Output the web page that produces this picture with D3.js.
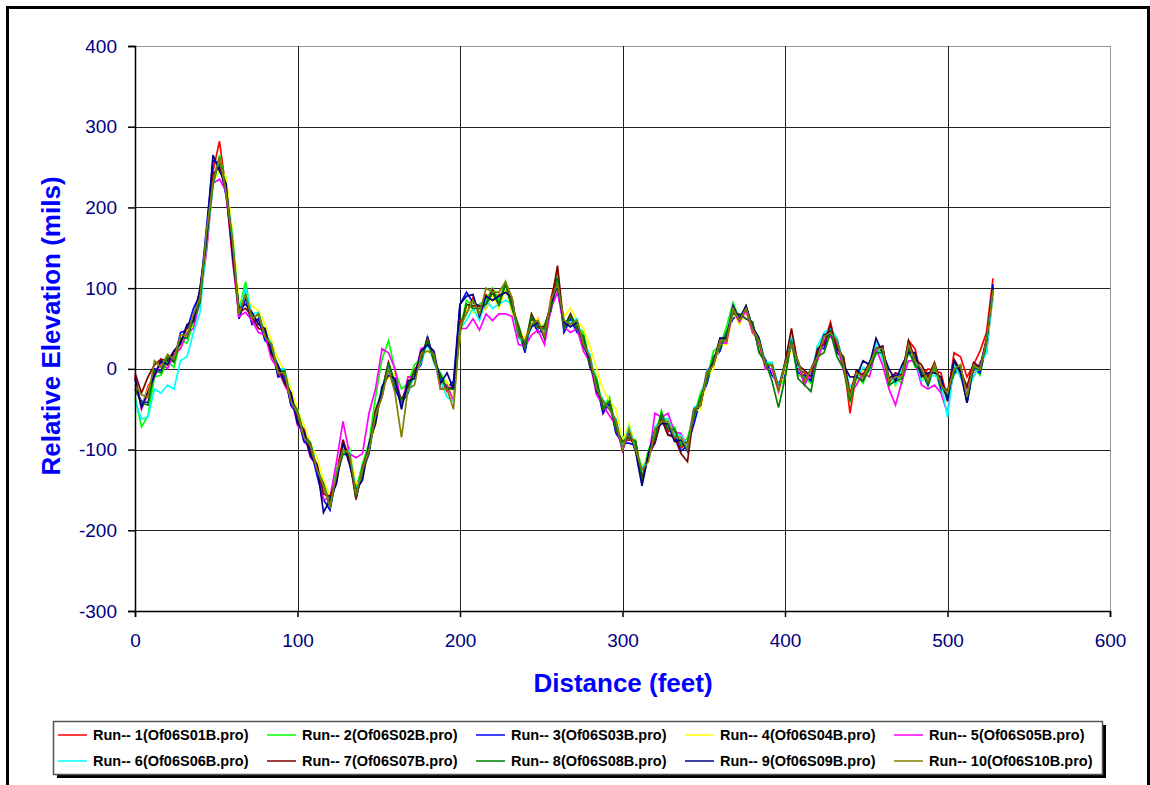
<!DOCTYPE html>
<html>
<head>
<meta charset="utf-8">
<script src="https://cdn.jsdelivr.net/npm/d3@7"></script>
<style>
  body { margin: 0; background: #fff; }
  svg { display: block; font-family: "Liberation Sans", Arial, sans-serif; }
</style>
</head>
<body>
<svg width="1150" height="785"></svg>
<script>
// Runs sampled every 4 ft, 0..528 ft
const sampleStep = 4;

const run1 = [-8,-48,-22,-8,12,2,22,30,52,55, 98,158,245,282,222,158,62,88,58,62, 38,28,-8,-5,-45,-55,-90,-95,-128,-145,
  -172,-128,-88,-118,-148,-122,-100,-52,-28,8, -22,-38,-28,-2,10,38,8,-10,-28,-22, 58,70,88,65,92,85,92,95,85,38,
  35,52,62,38,88,120,48,65,48,40, 2,-15,-55,-40,-78,-90,-88,-90,-138,-102, -88,-55,-78,-75,-98,-92,-48,-45,-2,5,
  38,35,75,58,72,45,35,2,5,-28, 8,38,0,-5,-15,25,32,58,22,12, -55,-5,-15,8,22,28,-18,-5,-10,35,
  25,-10,0,-2,-5,-38,20,15,-10,5, 22,45,112];
const run2 = [-35,-72,-58,-10,-8,10,2,35,32,58, 80,162,232,265,228,165,72,108,62,68, 42,32,-2,-2,-38,-52,-85,-92,-125,-142,
  -165,-125,-105,-98,-150,-118,-92,-35,12,35, -2,-25,-18,5,12,40,10,-5,-22,-18, 48,85,78,80,85,100,85,108,78,55,
  28,68,50,55,75,118,50,68,52,45, 8,-10,-48,-35,-75,-85,-85,-88,-135,-100, -85,-52,-75,-72,-95,-85,-58,-30,-12,22,
  28,52,82,62,78,52,38,5,8,-25, -12,38,-8,-10,-18,28,25,55,20,15, -42,-8,-18,2,18,25,-22,-12,-18,28,
  2,-2,-22,2,-28,-32,-8,2,-42,2, -8,32,88];
const run3 = [-25,-40,-42,0,-2,15,10,45,48,75, 92,175,258,255,215,152,62,88,55,62, 35,28,-10,-8,-45,-58,-90,-98,-132,-162,
  -175,-132,-105,-108,-160,-128,-105,-55,-35,5, -25,-42,-30,-5,5,40,10,-8,-25,-15, 80,95,82,78,75,92,78,102,72,48,
  20,62,45,48,72,112,45,62,45,38, 2,-18,-55,-42,-80,-92,-92,-95,-140,-105, -92,-60,-82,-82,-102,-95,-68,-38,-18,12,
  22,45,62,68,62,58,22,12,-8,-18, -8,38,-5,-8,-15,25,25,52,20,12, -35,-2,-10,8,25,28,-15,-8,-10,28,
  5,-2,-20,5,-25,-32,-5,2,-42,0, -5,30,105];
const run4 = [-12,-48,-25,-8,8,2,18,25,48,52, 90,145,232,245,238,170,85,90,78,72, 55,35,12,-2,-25,-50,-70,-92,-110,-138,
  -158,-142,-95,-100,-142,-138,-95,-70,-25,-10, -5,-48,-12,-12,18,22,18,-22,-15,-38, 40,75,70,70,75,90,75,100,70,48,
  38,58,62,42,85,100,65,75,60,50, 28,0,-25,-40,-50,-90,-68,-95,-120,-110, -72,-62,-62,-82,-82,-98,-52,-50,-10,0,
  30,30,70,55,72,48,30,0,0,-30, 0,25,8,-20,-5,10,35,40,30,0, -25,-18,-2,-8,32,12,-8,-22,-2,18,
  18,-12,-8,-8,-12,-42,8,-8,-28,-8, 8,20,92];
const run5 = [-10,-50,-30,-10,8,0,18,25,45,50, 85,145,230,235,220,135,65,70,60,45, 42,12,0,-20,-35,-70,-80,-110,-120,-162,
  -160,-115,-65,-105,-110,-105,-55,-25,25,20, 0,-45,-10,-10,25,28,18,-25,-20,-40, 50,50,62,48,68,60,68,68,65,30,
  28,42,48,30,75,95,52,45,50,22, 8,-32,-45,-58,-70,-102,-78,-100,-125,-112, -55,-60,-55,-78,-80,-98,-50,-42,-2,5,
  32,32,72,58,72,48,32,0,0,-28, 5,30,5,-20,-5,10,35,40,30,-2, -30,-20,-5,-10,25,5,-25,-45,-15,10,
  10,-20,-25,-20,-30,-55,5,-10,-25,-10, 8,20,95];
const run6 = [-40,-62,-60,-25,-30,-20,-25,10,15,45, 70,155,228,260,222,165,70,100,68,70, 42,32,0,0,-38,-52,-82,-92,-122,-145,
  -170,-130,-100,-102,-152,-125,-100,-52,-25,5, -20,-40,-28,-8,8,32,8,-15,-35,-40, 50,60,75,60,85,75,80,85,80,38,
  32,52,58,40,82,102,60,58,62,32, 18,-22,-38,-50,-62,-98,-72,-98,-122,-112, -72,-62,-62,-82,-82,-98,-48,-42,-2,5,
  35,35,78,62,78,52,38,8,8,-22, 8,42,2,-2,-8,28,45,50,38,8, -22,-12,2,-2,32,12,-8,-20,0,18,
  15,-15,-10,-8,-15,-60,5,-10,-30,-10, 5,20,95];
const run7 = [-5,-30,-10,5,12,10,22,32,52,58, 95,158,242,250,222,140,70,75,65,50, 48,18,2,-18,-30,-65,-75,-105,-118,-155,
  -158,-138,-88,-112,-162,-122,-98,-52,-28,8, -18,-38,-22,-2,12,38,10,-10,-25,-22, 48,80,78,78,80,98,80,105,78,52,
  28,68,52,52,80,128,52,68,50,40, 5,-15,-50,-40,-75,-90,-85,-90,-135,-108, -90,-62,-82,-85,-105,-115,-52,-45,-5,5,
  35,35,75,60,78,50,35,5,5,-25, 8,50,5,-2,-10,25,30,55,25,15, -32,-2,-8,8,25,28,-12,-5,-8,35,
  12,5,-10,8,-18,-28,12,-2,-22,8, 2,38,100];
const run8 = [-25,-42,-45,-2,-5,15,8,38,38,62, 82,162,228,262,225,158,68,92,62,68, 40,30,-5,-2,-38,-52,-82,-92,-125,-142,
  -172,-135,-105,-108,-158,-128,-102,-58,-30,8, -20,-40,-25,-5,10,35,10,-10,-25,-25, 45,80,75,75,80,95,80,105,75,50,
  25,65,50,50,75,112,50,65,50,40, 5,-15,-50,-40,-75,-90,-85,-90,-140,-105, -85,-55,-75,-75,-95,-90,-60,-35,-15,15,
  25,45,68,68,62,58,20,8,-15,-48, -12,35,-12,-20,-28,15,20,45,15,0, -40,-10,-15,0,20,20,-20,-15,-12,22,
  5,-5,-18,5,-20,-35,-2,5,-38,2, -2,32,98];
const run9 = [-12,-48,-28,-8,10,5,22,32,55,60, 100,162,265,245,230,145,75,80,70,55, 50,20,5,-15,-30,-68,-78,-108,-120,-178,
  -162,-142,-92,-118,-150,-138,-92,-68,-22,-8, -12,-50,-15,-12,22,30,22,-18,-5,-25, 80,90,92,65,90,85,90,95,88,40,
  35,52,58,38,82,102,58,52,58,28, 12,-28,-40,-50,-65,-100,-78,-102,-145,-105, -75,-68,-68,-90,-88,-102,-50,-45,-5,8,
  38,38,78,62,78,52,38,5,5,-25, 5,30,10,-15,0,18,42,45,35,5, -10,-10,10,5,38,20,0,-15,5,20,
  20,-10,-5,-5,-10,-40,10,-5,-42,5, 2,35,102];
const run10 = [-20,-32,-35,10,2,18,12,42,42,68, 88,170,232,262,220,158,68,92,62,68, 40,30,-5,-5,-40,-55,-85,-95,-125,-145,
  -170,-130,-100,-105,-155,-125,-100,-58,-35,0, -30,-85,-25,-20,18,22,18,-25,-25,-50, 52,68,85,68,100,95,95,108,88,40,
  35,55,60,40,85,105,60,55,60,30, 15,-25,-40,-50,-65,-100,-75,-100,-125,-115, -75,-65,-65,-85,-85,-100,-50,-45,-5,5,
  35,35,75,60,75,50,35,5,5,-25, 5,30,10,-15,0,15,40,45,35,5, -35,-5,-10,5,25,25,-15,-10,-10,30,
  10,0,-15,5,-20,-30,0,5,-35,5, 0,35,98];

const runNames = ["Run-- 1(Of06S01B.pro)","Run-- 2(Of06S02B.pro)","Run-- 3(Of06S03B.pro)","Run-- 4(Of06S04B.pro)","Run-- 5(Of06S05B.pro)",
  "Run-- 6(Of06S06B.pro)","Run-- 7(Of06S07B.pro)","Run-- 8(Of06S08B.pro)","Run-- 9(Of06S09B.pro)","Run-- 10(Of06S10B.pro)"];
const runColors = ["#ff0000","#00ff00","#0000ff","#ffff00","#ff00ff","#00ffff","#800000","#008000","#000080","#808000"];
const runs = [run1, run2, run3, run4, run5, run6, run7, run8, run9, run10];

const xTicks = [0, 100, 200, 300, 400, 500, 600];
const yTicks = [-300, -200, -100, 0, 100, 200, 300, 400];

const svg = d3.select("svg");

// outer frame
svg.append("rect")
    .attr("x", 7.5).attr("y", 7.5)
    .attr("width", 1141).attr("height", 820)
    .attr("fill", "none").attr("stroke", "#000").attr("stroke-width", 3);

const x = d3.scaleLinear().domain([0, 600]).range([135, 1110]);
const y = d3.scaleLinear().domain([-300, 400]).range([611, 46]);

// grid
const grid = svg.append("g").attr("shape-rendering", "crispEdges");
grid.selectAll(".hg").data(yTicks.slice(1)).enter().append("line")
    .attr("x1", x(0)).attr("x2", x(600))
    .attr("y1", d => Math.round(y(d)) + 0.5).attr("y2", d => Math.round(y(d)) + 0.5)
    .attr("stroke", d => d === 400 ? "#999" : "#222");
grid.selectAll(".vg").data(xTicks.slice(1)).enter().append("line")
    .attr("y1", y(-300)).attr("y2", y(400))
    .attr("x1", d => Math.round(x(d)) + 0.5).attr("x2", d => Math.round(x(d)) + 0.5)
    .attr("stroke", d => d === 600 ? "#999" : "#222");

// series
const line = d3.line()
    .x((d, i) => x(i * sampleStep))
    .y(d => y(d));

svg.append("g").selectAll("path")
    .data(runs)
    .enter().append("path")
    .attr("d", line)
    .attr("fill", "none")
    .attr("stroke", (d, i) => runColors[i])
    .attr("stroke-width", 1.7)
    .attr("stroke-linejoin", "miter");

// axes
const minorX = d3.range(0, 601, 20), minorY = d3.range(-300, 401, 20);
const plain = d => String(d);

const yAxis = svg.append("g").attr("transform", `translate(${x(0)},0)`);
yAxis.call(d3.axisLeft(y).tickValues(minorY).tickSize(7).tickFormat(""));
yAxis.call(d3.axisLeft(y).tickValues(yTicks).tickSize(7).tickPadding(11).tickFormat(plain));

const xAxis = svg.append("g").attr("transform", `translate(0,${y(-300)})`);
xAxis.call(d3.axisBottom(x).tickValues(minorX).tickSize(6).tickFormat(""));
xAxis.call(d3.axisBottom(x).tickValues(xTicks).tickSize(6).tickPadding(17).tickFormat(plain));

svg.selectAll(".domain").attr("stroke", "#000").attr("stroke-width", 1.5);
svg.selectAll(".tick line").attr("stroke", "#000").attr("stroke-width", 1.5);
svg.selectAll(".tick text")
    .attr("fill", "#000080")
    .style("font-size", "19px")
    .style("font-family", "'Liberation Sans', Arial, sans-serif");

// axis titles
svg.append("text")
    .attr("x", 623).attr("y", 692)
    .attr("text-anchor", "middle")
    .attr("fill", "#0000ff")
    .style("font-size", "26px").style("font-weight", "bold")
    .text("Distance (feet)");

svg.append("text")
    .attr("transform", "translate(60,326) rotate(-90)")
    .attr("text-anchor", "middle")
    .attr("fill", "#0000ff")
    .style("font-size", "26px").style("font-weight", "bold")
    .text("Relative Elevation (mils)");

// legend
const legend = svg.append("g");
legend.append("rect")
    .attr("x", 57).attr("y", 725).attr("width", 1049).attr("height", 53)
    .attr("fill", "#000");
legend.append("rect")
    .attr("x", 53.5).attr("y", 721.5).attr("width", 1049).attr("height", 53)
    .attr("fill", "#fff").attr("stroke", "#555").attr("stroke-width", 1.5);

const item = legend.selectAll(".item")
    .data(runNames)
    .enter().append("g")
    .attr("transform", (d, i) => `translate(${93 + (i % 5) * 209},${i < 5 ? 735 : 761})`);
item.append("line")
    .attr("x1", -35).attr("x2", -6)
    .attr("stroke", (d, i) => runColors[i]).attr("stroke-width", 1.5);
item.append("text")
    .attr("dy", "0.35em")
    .style("font-size", "14.5px").style("font-weight", "bold")
    .text(d => d);
</script>
</body>
</html>
